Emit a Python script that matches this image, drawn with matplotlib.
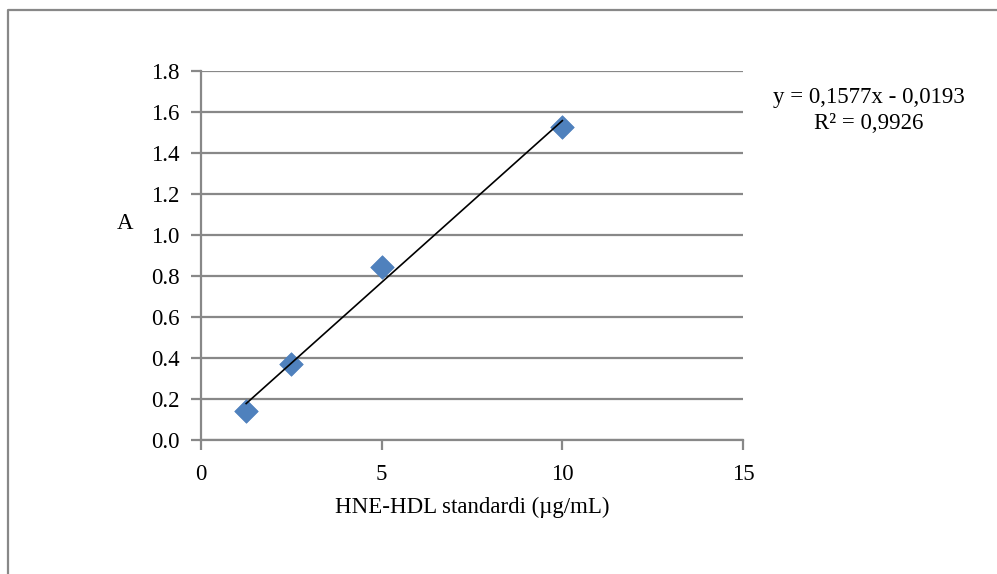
import matplotlib
matplotlib.use("Agg")
import matplotlib.pyplot as plt
from matplotlib.lines import Line2D
import numpy as np

# Data
conc = [1.25, 2.5, 5, 10]
absorb = [0.14, 0.37, 0.845, 1.525]
slope = 0.1577
intercept = -0.0193
x_ticks = [0, 5, 10, 15]
y_ticks = [0.0, 0.2, 0.4, 0.6, 0.8, 1.0, 1.2, 1.4, 1.6, 1.8]
eq_text = "y = 0,1577x - 0,0193\nR² = 0,9926"
x_label = "HNE-HDL standardi (µg/mL)"
y_label = "A"

plt.rcParams['font.family'] = ['Liberation Serif', 'DejaVu Serif']
FS = 16.5
GRAY = '#888888'

fig = plt.figure(figsize=(9.97, 5.74), dpi=100)
ax = fig.add_axes([201/997, 1 - 440/574, 542/997, 369/574])

ax.scatter(conc, absorb, marker='D', s=12**2, color='#4F81BD', edgecolor='#4A7EBB',
           linewidth=0.5, zorder=3)
xt = np.array([min(conc), max(conc)])
ax.plot(xt, slope * xt + intercept, color='black', lw=1.2, zorder=4)

ax.set_xlim(0, 15)
ax.set_ylim(0, 1.8)
ax.set_xticks(x_ticks)
ax.set_yticks(y_ticks)
ax.set_yticklabels([f"{v:.1f}" for v in y_ticks])
ax.set_xticklabels([str(v) for v in x_ticks])
ax.yaxis.grid(True, color=GRAY, lw=1.6)
ax.set_axisbelow(True)
for s in ['top', 'right']:
    ax.spines[s].set_visible(False)
for s in ['left', 'bottom']:
    ax.spines[s].set_color(GRAY)
    ax.spines[s].set_linewidth(1.6)
ax.tick_params(axis='both', direction='out', length=7, width=1.6, color=GRAY,
               labelsize=FS)
ax.tick_params(axis='y', pad=8.5)
ax.tick_params(axis='x', pad=10)

ax.set_xlabel(x_label, fontsize=FS)
ax.xaxis.set_label_coords(0.5, -0.155)
ax.set_ylabel(y_label, fontsize=FS, rotation=0, va='center', ha='center')
ax.yaxis.set_label_coords(-0.14, 0.588)

ax.text(1.232, 0.893, eq_text, transform=ax.transAxes, ha='center', va='center',
        multialignment='center', fontsize=FS, linespacing=1.3)

# chart border (top and left)
fig.add_artist(Line2D([8/997, 8/997, 1.0], [0.0, 1 - 9.5/574, 1 - 9.5/574],
                      transform=fig.transFigure, color=GRAY, lw=1.6))

fig.savefig("out.png", dpi=100)
